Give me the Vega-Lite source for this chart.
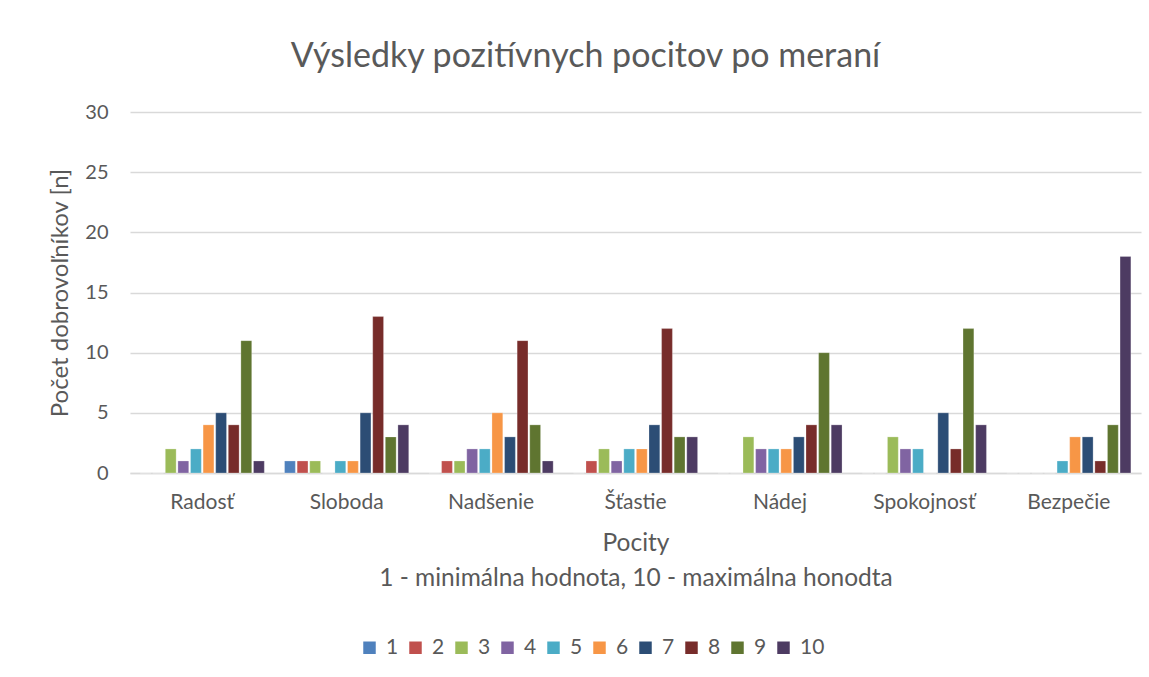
{
  "$schema": "https://vega.github.io/schema/vega-lite/v6.json",
  "autosize": {"type": "none"},
  "width": 1011,
  "height": 361,
  "padding": {"left": 130, "top": 112, "right": 8, "bottom": 204},
  "background": "white",
  "title": {
    "text": "Výsledky pozitívnych pocitov po meraní",
    "font": "Lato",
    "fontSize": 34,
    "fontWeight": "normal",
    "color": "#595959",
    "anchor": "middle",
    "dx": -50,
    "offset": 28
  },
  "data": {
    "values": [
      {"pocit": "Radosť", "hodnota": "1", "n": 0},
      {"pocit": "Radosť", "hodnota": "2", "n": 0},
      {"pocit": "Radosť", "hodnota": "3", "n": 2},
      {"pocit": "Radosť", "hodnota": "4", "n": 1},
      {"pocit": "Radosť", "hodnota": "5", "n": 2},
      {"pocit": "Radosť", "hodnota": "6", "n": 4},
      {"pocit": "Radosť", "hodnota": "7", "n": 5},
      {"pocit": "Radosť", "hodnota": "8", "n": 4},
      {"pocit": "Radosť", "hodnota": "9", "n": 11},
      {"pocit": "Radosť", "hodnota": "10", "n": 1},
      {"pocit": "Sloboda", "hodnota": "1", "n": 1},
      {"pocit": "Sloboda", "hodnota": "2", "n": 1},
      {"pocit": "Sloboda", "hodnota": "3", "n": 1},
      {"pocit": "Sloboda", "hodnota": "4", "n": 0},
      {"pocit": "Sloboda", "hodnota": "5", "n": 1},
      {"pocit": "Sloboda", "hodnota": "6", "n": 1},
      {"pocit": "Sloboda", "hodnota": "7", "n": 5},
      {"pocit": "Sloboda", "hodnota": "8", "n": 13},
      {"pocit": "Sloboda", "hodnota": "9", "n": 3},
      {"pocit": "Sloboda", "hodnota": "10", "n": 4},
      {"pocit": "Nadšenie", "hodnota": "1", "n": 0},
      {"pocit": "Nadšenie", "hodnota": "2", "n": 1},
      {"pocit": "Nadšenie", "hodnota": "3", "n": 1},
      {"pocit": "Nadšenie", "hodnota": "4", "n": 2},
      {"pocit": "Nadšenie", "hodnota": "5", "n": 2},
      {"pocit": "Nadšenie", "hodnota": "6", "n": 5},
      {"pocit": "Nadšenie", "hodnota": "7", "n": 3},
      {"pocit": "Nadšenie", "hodnota": "8", "n": 11},
      {"pocit": "Nadšenie", "hodnota": "9", "n": 4},
      {"pocit": "Nadšenie", "hodnota": "10", "n": 1},
      {"pocit": "Šťastie", "hodnota": "1", "n": 0},
      {"pocit": "Šťastie", "hodnota": "2", "n": 1},
      {"pocit": "Šťastie", "hodnota": "3", "n": 2},
      {"pocit": "Šťastie", "hodnota": "4", "n": 1},
      {"pocit": "Šťastie", "hodnota": "5", "n": 2},
      {"pocit": "Šťastie", "hodnota": "6", "n": 2},
      {"pocit": "Šťastie", "hodnota": "7", "n": 4},
      {"pocit": "Šťastie", "hodnota": "8", "n": 12},
      {"pocit": "Šťastie", "hodnota": "9", "n": 3},
      {"pocit": "Šťastie", "hodnota": "10", "n": 3},
      {"pocit": "Nádej", "hodnota": "1", "n": 0},
      {"pocit": "Nádej", "hodnota": "2", "n": 0},
      {"pocit": "Nádej", "hodnota": "3", "n": 3},
      {"pocit": "Nádej", "hodnota": "4", "n": 2},
      {"pocit": "Nádej", "hodnota": "5", "n": 2},
      {"pocit": "Nádej", "hodnota": "6", "n": 2},
      {"pocit": "Nádej", "hodnota": "7", "n": 3},
      {"pocit": "Nádej", "hodnota": "8", "n": 4},
      {"pocit": "Nádej", "hodnota": "9", "n": 10},
      {"pocit": "Nádej", "hodnota": "10", "n": 4},
      {"pocit": "Spokojnosť", "hodnota": "1", "n": 0},
      {"pocit": "Spokojnosť", "hodnota": "2", "n": 0},
      {"pocit": "Spokojnosť", "hodnota": "3", "n": 3},
      {"pocit": "Spokojnosť", "hodnota": "4", "n": 2},
      {"pocit": "Spokojnosť", "hodnota": "5", "n": 2},
      {"pocit": "Spokojnosť", "hodnota": "6", "n": 0},
      {"pocit": "Spokojnosť", "hodnota": "7", "n": 5},
      {"pocit": "Spokojnosť", "hodnota": "8", "n": 2},
      {"pocit": "Spokojnosť", "hodnota": "9", "n": 12},
      {"pocit": "Spokojnosť", "hodnota": "10", "n": 4},
      {"pocit": "Bezpečie", "hodnota": "1", "n": 0},
      {"pocit": "Bezpečie", "hodnota": "2", "n": 0},
      {"pocit": "Bezpečie", "hodnota": "3", "n": 0},
      {"pocit": "Bezpečie", "hodnota": "4", "n": 0},
      {"pocit": "Bezpečie", "hodnota": "5", "n": 1},
      {"pocit": "Bezpečie", "hodnota": "6", "n": 3},
      {"pocit": "Bezpečie", "hodnota": "7", "n": 3},
      {"pocit": "Bezpečie", "hodnota": "8", "n": 1},
      {"pocit": "Bezpečie", "hodnota": "9", "n": 4},
      {"pocit": "Bezpečie", "hodnota": "10", "n": 18}
    ]
  },
  "mark": {"type": "bar", "stroke": "white", "strokeOpacity": 0.5, "strokeWidth": 0.5},
  "encoding": {
    "x": {
      "field": "pocit",
      "type": "nominal",
      "sort": ["Radosť", "Sloboda", "Nadšenie", "Šťastie", "Nádej", "Spokojnosť", "Bezpečie"],
      "scale": {"paddingInner": 0.14, "paddingOuter": 0.07},
      "axis": {
        "title": ["Pocity", "1 - minimálna hodnota, 10 - maximálna honodta"],
        "titleFont": "Lato",
        "titleFontSize": 24.5,
        "titleFontWeight": "normal",
        "titleColor": "#595959",
        "titleLineHeight": 35,
        "titlePadding": 19,
        "labelAngle": 0,
        "labelFont": "Lato",
        "labelFontSize": 21,
        "labelColor": "#595959",
        "labelPadding": 18,
        "ticks": false,
        "domainColor": "#d9d9d9",
        "domainWidth": 1.5
      }
    },
    "xOffset": {
      "field": "hodnota",
      "type": "nominal",
      "sort": ["1", "2", "3", "4", "5", "6", "7", "8", "9", "10"],
      "scale": {"paddingInner": 0.14}
    },
    "y": {
      "field": "n",
      "type": "quantitative",
      "scale": {"domain": [0, 30]},
      "axis": {
        "values": [0, 5, 10, 15, 20, 25, 30],
        "title": "Počet dobrovoľníkov [n]",
        "titleFont": "Lato",
        "titleFontSize": 24,
        "titleFontWeight": "normal",
        "titleColor": "#595959",
        "titlePadding": 12,
        "labelFont": "Lato",
        "labelFontSize": 20,
        "labelColor": "#595959",
        "labelPadding": 22,
        "ticks": false,
        "domain": false,
        "gridColor": "#d9d9d9",
        "gridWidth": 1.5
      }
    },
    "color": {
      "field": "hodnota",
      "type": "nominal",
      "sort": ["1", "2", "3", "4", "5", "6", "7", "8", "9", "10"],
      "scale": {
        "domain": ["1", "2", "3", "4", "5", "6", "7", "8", "9", "10"],
        "range": ["#4F81BD", "#C0504D", "#9BBB59", "#8064A2", "#4BACC6", "#F79646", "#2C4D75", "#772C2A", "#5F7530", "#4D3B62"]
      },
      "legend": {
        "title": null,
        "orient": "none",
        "direction": "horizontal",
        "columns": 10,
        "legendX": 229,
        "legendY": 525,
        "symbolType": "square",
        "symbolSize": 156,
        "symbolStrokeWidth": 0,
        "labelFont": "Lato",
        "labelFontSize": 21,
        "labelColor": "#595959",
        "labelOffset": 6,
        "columnPadding": 6
      }
    }
  },
  "config": {
    "view": {"stroke": null}
  }
}
